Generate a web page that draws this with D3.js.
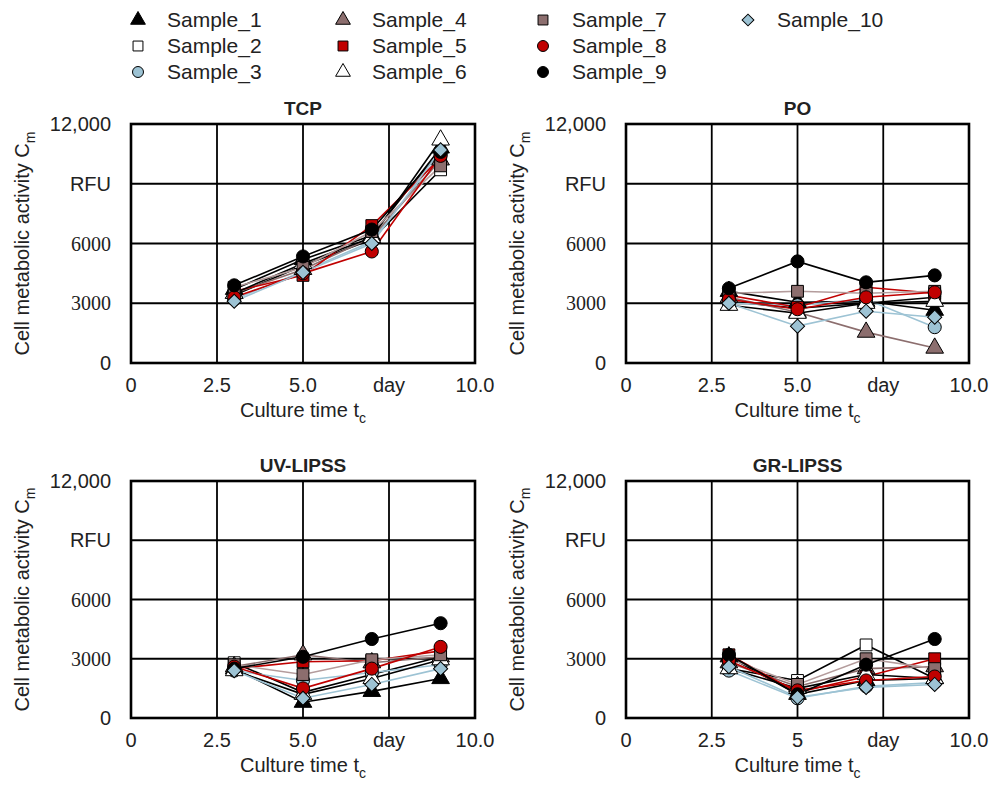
<!DOCTYPE html>
<html>
<head>
<meta charset="utf-8">
<script src="https://cdn.jsdelivr.net/npm/d3@7"></script>
<style>
  body { margin: 0; background: #fff; }
  text { font-family: "Liberation Sans", Arial, sans-serif; fill: #222; }
</style>
</head>
<body>
<div id="chart"></div>
<script>
// Sample names and culture days
var samples = ['Sample_1','Sample_2','Sample_3','Sample_4','Sample_5',
               'Sample_6','Sample_7','Sample_8','Sample_9','Sample_10'];
var days = [3, 5, 7, 9];

// RFU values, one row per sample (days 3,5,7,9)
var tcp = [
  [3700, 5200, 6400, 10800],
  [3400, 4900, 6200, 9700],
  [3200, 4600, 6100, 10500],
  [3500, 4700, 6300, 10200],
  [3600, 4400, 6900, 10300],
  [3500, 5000, 6300, 11200],
  [3800, 4800, 6600, 9900],
  [3300, 4500, 5600, 10400],
  [3900, 5350, 6700, 10600],
  [3100, 4550, 6000, 10700]
];
var po = [
  [3600, 3050, 3100, 2650],
  [3100, 2750, 3000, 3300],
  [3000, 2900, 3200, 1800],
  [3300, 2550, 1550, 750],
  [3400, 2800, 3800, 3500],
  [2900, 2500, 3000, 3100],
  [3500, 3600, 3500, 3600],
  [3200, 2700, 3300, 3550],
  [3750, 5100, 4050, 4400],
  [3000, 1850, 2600, 2300]
];
var uv = [
  [2500, 800, 1350, 2000],
  [2800, 1300, 2200, 3100],
  [2400, 1900, 2300, 2700],
  [2600, 3200, 2800, 3100],
  [2500, 2850, 2900, 3400],
  [2400, 1200, 2000, 2950],
  [2700, 2200, 2950, 3200],
  [2600, 1500, 2500, 3600],
  [2500, 3100, 4000, 4800],
  [2400, 1000, 1700, 2500]
];
var gr = [
  [3100, 1200, 1900, 2000],
  [2500, 1900, 3700, 2000],
  [2400, 1000, 1600, 1800],
  [2800, 1600, 2500, 2600],
  [3200, 1300, 2100, 3000],
  [2500, 1500, 2200, 2000],
  [3000, 1700, 3000, 2500],
  [2900, 1400, 1900, 2100],
  [3200, 1200, 2700, 4000],
  [2600, 1050, 1550, 1700]
];

var panelTitles = ['TCP', 'PO', 'UV-LIPSS', 'GR-LIPSS'];
var panelData = [tcp, po, uv, gr];
var xTicks = [0, 2.5, 5, 7.5, 10];
var xTickLabels = [['0','2.5','5.0','day','10.0'], ['0','2.5','5.0','day','10.0'],
                   ['0','2.5','5.0','day','10.0'], ['0','2.5','5','day','10.0']];
var yTicks = [0, 3000, 6000, 9000, 12000];
var yTickLabels = ['0', '3000', '6000', 'RFU', '12,000'];

// marker style per sample
var shapes = ['triangle','square','circle','triangle','square',
              'triangle','square','circle','circle','diamond'];
var fills = ['#000','#fff','#9dc3d4','#8c6e6e','#c00000',
             '#fff','#8c6e6e','#c00000','#000','#9dc3d4'];
var lineColors = ['#000','#000','#9dc3d4','#8c6e6e','#c00000',
                  '#000','#b49c9c','#c00000','#000','#9dc3d4'];

var W = 994, H = 787;
var svg = d3.select('#chart').append('svg')
            .attr('width', W).attr('height', H);

var symbolType = {
  triangle: d3.symbolTriangle,
  square: d3.symbolSquare,
  circle: d3.symbolCircle,
  diamond: d3.symbolSquare   // square turned 45 degrees
};
var symbolSize = { triangle: 135, square: 140, circle: 135, diamond: 100 };

function marker(sel, i, scale) {
  scale = scale || 1;
  var sh = shapes[i];
  sel.append('path')
     .attr('d', d3.symbol().type(symbolType[sh]).size(symbolSize[sh] * scale)())
     .attr('fill', fills[i])
     .attr('stroke', '#000')
     .attr('stroke-width', 1)
     .attr('transform', sh === 'diamond' ? 'rotate(45)' : null);
}

// plot areas
var boxes = [
  {x0: 131, x1: 475, y0: 124, y1: 363},
  {x0: 626, x1: 969, y0: 124, y1: 363},
  {x0: 131, x1: 475, y0: 481, y1: 718},
  {x0: 626, x1: 969, y0: 481, y1: 718}
];

boxes.forEach(function(b, p) {
  var x = d3.scaleLinear().domain([0, 10]).range([b.x0, b.x1]);
  var y = d3.scaleLinear().domain([0, 12000]).range([b.y1, b.y0]);
  var g = svg.append('g');

  // grid lines
  g.selectAll('.vg').data(xTicks.slice(1, -1)).enter().append('line')
    .attr('x1', function(d) { return x(d); }).attr('x2', function(d) { return x(d); })
    .attr('y1', b.y0).attr('y2', b.y1)
    .attr('stroke', '#000').attr('stroke-width', 1.8);
  g.selectAll('.hg').data(yTicks.slice(1, -1)).enter().append('line')
    .attr('y1', function(d) { return y(d); }).attr('y2', function(d) { return y(d); })
    .attr('x1', b.x0).attr('x2', b.x1)
    .attr('stroke', '#000').attr('stroke-width', 1.8);

  // frame
  g.append('rect')
    .attr('x', b.x0).attr('y', b.y0)
    .attr('width', b.x1 - b.x0).attr('height', b.y1 - b.y0)
    .attr('fill', 'none').attr('stroke', '#000').attr('stroke-width', 2.6);

  // tick labels
  g.selectAll('.xt').data(xTicks).enter().append('text')
    .attr('x', function(d) { return x(d); })
    .attr('y', b.y1 + 29)
    .attr('text-anchor', 'middle')
    .attr('font-size', 20)
    .text(function(d, i) { return xTickLabels[p][i]; });

  g.selectAll('.yt').data(yTicks).enter().append('text')
    .attr('x', b.x0 - 20)
    .attr('y', function(d) { return y(d) + 7; })
    .attr('text-anchor', 'end')
    .attr('font-size', 20)
    .style('font-family', function(d, i) {
      return (i === 1 || i === 2) ? '"Liberation Serif", serif' : null;
    })
    .text(function(d, i) { return yTickLabels[i]; });

  // panel title
  g.append('text')
    .attr('x', (b.x0 + b.x1) / 2).attr('y', b.y0 - 9)
    .attr('text-anchor', 'middle')
    .attr('font-size', 19).attr('font-weight', 'bold')
    .text(panelTitles[p]);

  // x axis title
  var xt = g.append('text')
    .attr('x', (b.x0 + b.x1) / 2).attr('y', b.y1 + 54)
    .attr('text-anchor', 'middle')
    .attr('font-size', 20);
  xt.append('tspan').text('Culture time t');
  xt.append('tspan').attr('font-size', 14).attr('dy', 6).text('c');

  // y axis title
  var yt = g.append('text')
    .attr('transform', 'translate(' + (b.x0 - 102) + ',' + ((b.y0 + b.y1) / 2) + ') rotate(-90)')
    .attr('text-anchor', 'middle')
    .attr('font-size', 20);
  yt.append('tspan').text('Cell metabolic activity C');
  yt.append('tspan').attr('font-size', 14).attr('dy', 6).text('m');

  // series
  var line = d3.line()
    .x(function(d, i) { return x(days[i]); })
    .y(function(d) { return y(d); });

  panelData[p].forEach(function(row, i) {
    g.append('path')
      .attr('d', line(row))
      .attr('fill', 'none')
      .attr('stroke', lineColors[i])
      .attr('stroke-width', 1.6);
  });
  panelData[p].forEach(function(row, i) {
    row.forEach(function(v, j) {
      var m = g.append('g')
        .attr('transform', 'translate(' + x(days[j]) + ',' + y(v) + ')');
      marker(m, i);
    });
  });
});

// legend
var legX = [138, 343, 543, 748];
var legY = [20, 46, 72];
samples.forEach(function(s, i) {
  var col = Math.floor(i / 3), row = i % 3;
  var lg = svg.append('g')
    .attr('transform', 'translate(' + legX[col] + ',' + legY[row] + ')');
  marker(lg, i, 0.7);
  lg.append('text')
    .attr('x', 29).attr('y', 7)
    .attr('font-size', 21)
    .text(s);
});
</script>
</body>
</html>
